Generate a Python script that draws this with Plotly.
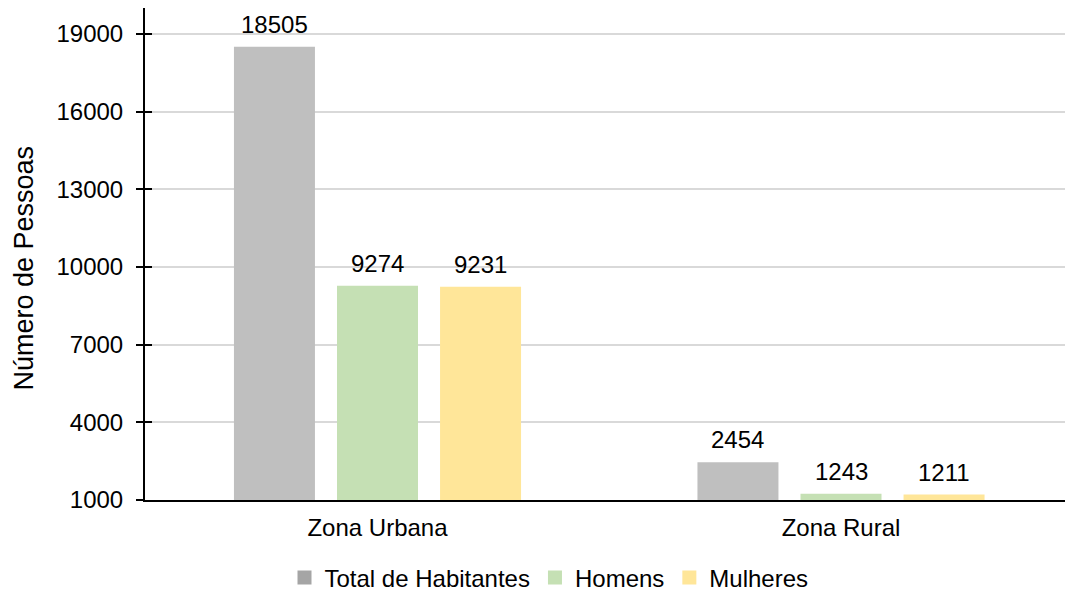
import plotly.graph_objects as go

categories = ["Zona Urbana", "Zona Rural"]
series_names = ["Total de Habitantes", "Homens", "Mulheres"]
total = [18505, 2454]
homens = [9274, 1243]
mulheres = [9231, 1211]
tick_vals = [1000, 4000, 7000, 10000, 13000, 16000, 19000]
tick_text = [str(v) for v in tick_vals]
y_base = 1000

bar_colors = ["#BFBFBF", "#C5E0B4", "#FFE699"]
legend_colors = ["#A5A5A5", "#C5E0B4", "#FFE699"]
values = [total, homens, mulheres]

BAR_GAP = 0.333
GROUP_GAP = 0.214
slot = (1 - BAR_GAP) / len(values)

fig = go.Figure()
for k, (name, vals, c) in enumerate(zip(series_names, values, bar_colors)):
    fig.add_trace(go.Bar(
        x=categories, y=[v - y_base for v in vals], base=y_base, name=name,
        marker=dict(color=c, line=dict(width=0)), showlegend=False,
        hoverinfo="skip",
    ))
    for i, v in enumerate(vals):
        fig.add_annotation(
            x=i + (k - 1) * slot, y=v, xref="x", yref="y",
            text=str(v), showarrow=False, yanchor="bottom", yshift=7,
            font=dict(size=24, color="#000000"),
        )

# legend entries
for name, c in zip(series_names, legend_colors):
    fig.add_trace(go.Scatter(
        x=[None], y=[None], mode="markers", name=name,
        marker=dict(symbol="square", size=14, color=c),
    ))

# inside half of crossing ticks
fig.add_trace(go.Scatter(x=[None], y=[None], yaxis="y2", showlegend=False))

fig.add_annotation(
    text="Número de Pessoas", xref="paper", yref="paper",
    x=(23 - 145) / 920, y=(500 - 267.5) / 492, textangle=-90,
    showarrow=False, xanchor="center", yanchor="middle",
    font=dict(size=27, color="#000000"),
)

fig.update_layout(
    width=1065, height=591,
    margin=dict(l=145, r=0, t=8, b=91, autoexpand=False),
    paper_bgcolor="white", plot_bgcolor="white",
    font=dict(family="Liberation Sans, Arial, sans-serif", size=24, color="#000000"),
    barmode="group", bargap=BAR_GAP, bargroupgap=GROUP_GAP,
    showlegend=True,
    legend=dict(orientation="h", x=(549 - 145) / 920, xanchor="center",
                y=(500 - 578) / 492, yanchor="middle",
                font=dict(size=24, color="#000000"), itemwidth=30,
                traceorder="normal", bgcolor="rgba(0,0,0,0)"),
    yaxis=dict(range=[1000, 20000], tickvals=tick_vals, ticktext=tick_text,
               showgrid=True, gridcolor="#D9D9D9", gridwidth=1.5,
               showline=True, linecolor="#000000", linewidth=2,
               ticks="outside", ticklen=7, tickwidth=2, tickcolor="#000000",
               ticklabelstandoff=8, tickfont=dict(size=24),
               zeroline=False, automargin=False),
    yaxis2=dict(range=[1000, 20000], tickvals=tick_vals, overlaying="y",
                side="left", anchor="x", showticklabels=False, showgrid=False,
                showline=False, zeroline=False, ticks="inside", ticklen=7,
                tickwidth=2, tickcolor="#000000"),
    xaxis=dict(range=[-232.5 / 463.5, 687.5 / 463.5],
               showline=True, linecolor="#000000", linewidth=2, ticks="",
               tickfont=dict(size=24), automargin=False, ticklabelstandoff=5),
)

fig.write_html(
    "out.html",
    config={"displayModeBar": False},
    post_script="document.body.style.margin='0px';document.body.style.overflow='hidden';",
)
